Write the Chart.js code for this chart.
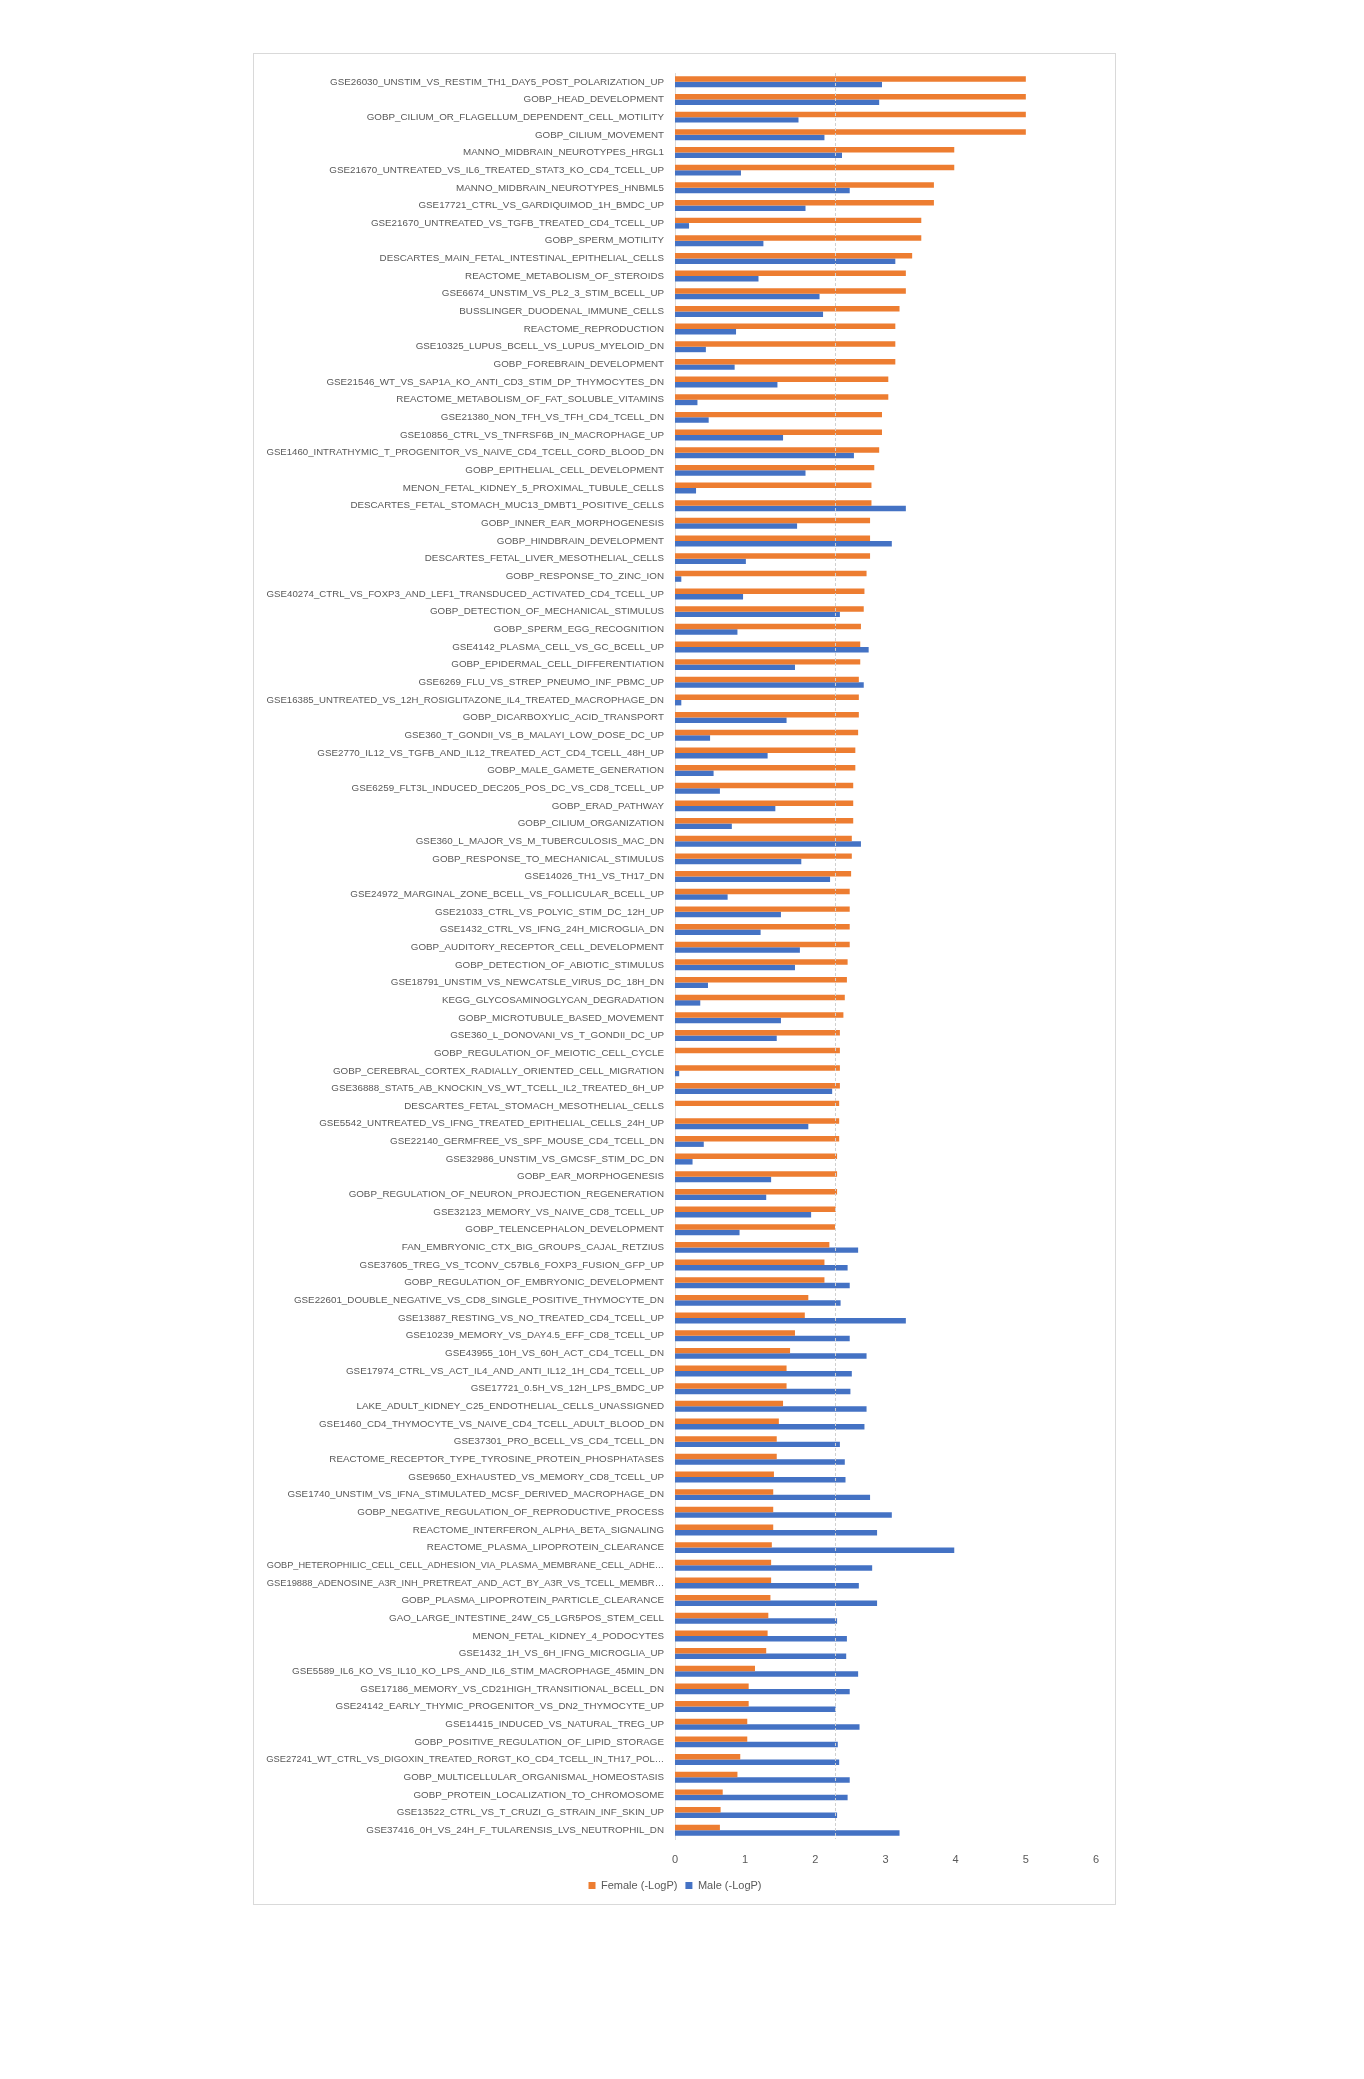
<!DOCTYPE html>
<html>
<head>
<meta charset="utf-8">
<script src="https://cdn.jsdelivr.net/npm/chart.js@4.4.1/dist/chart.umd.min.js"></script>
<style>
  html, body { margin: 0; padding: 0; background: #ffffff; }
  #box {
    position: absolute; left: 253px; top: 53px;
    width: 863px; height: 1852px;
    border: 1px solid #d9d9d9; box-sizing: border-box; background: #fff;
  }
  #box canvas { display: block; }
</style>
</head>
<body>
<div id="box"><canvas id="chartGenes"></canvas></div>
<script>
const categories = [
  'GSE26030_UNSTIM_VS_RESTIM_TH1_DAY5_POST_POLARIZATION_UP',
  'GOBP_HEAD_DEVELOPMENT',
  'GOBP_CILIUM_OR_FLAGELLUM_DEPENDENT_CELL_MOTILITY',
  'GOBP_CILIUM_MOVEMENT',
  'MANNO_MIDBRAIN_NEUROTYPES_HRGL1',
  'GSE21670_UNTREATED_VS_IL6_TREATED_STAT3_KO_CD4_TCELL_UP',
  'MANNO_MIDBRAIN_NEUROTYPES_HNBML5',
  'GSE17721_CTRL_VS_GARDIQUIMOD_1H_BMDC_UP',
  'GSE21670_UNTREATED_VS_TGFB_TREATED_CD4_TCELL_UP',
  'GOBP_SPERM_MOTILITY',
  'DESCARTES_MAIN_FETAL_INTESTINAL_EPITHELIAL_CELLS',
  'REACTOME_METABOLISM_OF_STEROIDS',
  'GSE6674_UNSTIM_VS_PL2_3_STIM_BCELL_UP',
  'BUSSLINGER_DUODENAL_IMMUNE_CELLS',
  'REACTOME_REPRODUCTION',
  'GSE10325_LUPUS_BCELL_VS_LUPUS_MYELOID_DN',
  'GOBP_FOREBRAIN_DEVELOPMENT',
  'GSE21546_WT_VS_SAP1A_KO_ANTI_CD3_STIM_DP_THYMOCYTES_DN',
  'REACTOME_METABOLISM_OF_FAT_SOLUBLE_VITAMINS',
  'GSE21380_NON_TFH_VS_TFH_CD4_TCELL_DN',
  'GSE10856_CTRL_VS_TNFRSF6B_IN_MACROPHAGE_UP',
  'GSE1460_INTRATHYMIC_T_PROGENITOR_VS_NAIVE_CD4_TCELL_CORD_BLOOD_DN',
  'GOBP_EPITHELIAL_CELL_DEVELOPMENT',
  'MENON_FETAL_KIDNEY_5_PROXIMAL_TUBULE_CELLS',
  'DESCARTES_FETAL_STOMACH_MUC13_DMBT1_POSITIVE_CELLS',
  'GOBP_INNER_EAR_MORPHOGENESIS',
  'GOBP_HINDBRAIN_DEVELOPMENT',
  'DESCARTES_FETAL_LIVER_MESOTHELIAL_CELLS',
  'GOBP_RESPONSE_TO_ZINC_ION',
  'GSE40274_CTRL_VS_FOXP3_AND_LEF1_TRANSDUCED_ACTIVATED_CD4_TCELL_UP',
  'GOBP_DETECTION_OF_MECHANICAL_STIMULUS',
  'GOBP_SPERM_EGG_RECOGNITION',
  'GSE4142_PLASMA_CELL_VS_GC_BCELL_UP',
  'GOBP_EPIDERMAL_CELL_DIFFERENTIATION',
  'GSE6269_FLU_VS_STREP_PNEUMO_INF_PBMC_UP',
  'GSE16385_UNTREATED_VS_12H_ROSIGLITAZONE_IL4_TREATED_MACROPHAGE_DN',
  'GOBP_DICARBOXYLIC_ACID_TRANSPORT',
  'GSE360_T_GONDII_VS_B_MALAYI_LOW_DOSE_DC_UP',
  'GSE2770_IL12_VS_TGFB_AND_IL12_TREATED_ACT_CD4_TCELL_48H_UP',
  'GOBP_MALE_GAMETE_GENERATION',
  'GSE6259_FLT3L_INDUCED_DEC205_POS_DC_VS_CD8_TCELL_UP',
  'GOBP_ERAD_PATHWAY',
  'GOBP_CILIUM_ORGANIZATION',
  'GSE360_L_MAJOR_VS_M_TUBERCULOSIS_MAC_DN',
  'GOBP_RESPONSE_TO_MECHANICAL_STIMULUS',
  'GSE14026_TH1_VS_TH17_DN',
  'GSE24972_MARGINAL_ZONE_BCELL_VS_FOLLICULAR_BCELL_UP',
  'GSE21033_CTRL_VS_POLYIC_STIM_DC_12H_UP',
  'GSE1432_CTRL_VS_IFNG_24H_MICROGLIA_DN',
  'GOBP_AUDITORY_RECEPTOR_CELL_DEVELOPMENT',
  'GOBP_DETECTION_OF_ABIOTIC_STIMULUS',
  'GSE18791_UNSTIM_VS_NEWCATSLE_VIRUS_DC_18H_DN',
  'KEGG_GLYCOSAMINOGLYCAN_DEGRADATION',
  'GOBP_MICROTUBULE_BASED_MOVEMENT',
  'GSE360_L_DONOVANI_VS_T_GONDII_DC_UP',
  'GOBP_REGULATION_OF_MEIOTIC_CELL_CYCLE',
  'GOBP_CEREBRAL_CORTEX_RADIALLY_ORIENTED_CELL_MIGRATION',
  'GSE36888_STAT5_AB_KNOCKIN_VS_WT_TCELL_IL2_TREATED_6H_UP',
  'DESCARTES_FETAL_STOMACH_MESOTHELIAL_CELLS',
  'GSE5542_UNTREATED_VS_IFNG_TREATED_EPITHELIAL_CELLS_24H_UP',
  'GSE22140_GERMFREE_VS_SPF_MOUSE_CD4_TCELL_DN',
  'GSE32986_UNSTIM_VS_GMCSF_STIM_DC_DN',
  'GOBP_EAR_MORPHOGENESIS',
  'GOBP_REGULATION_OF_NEURON_PROJECTION_REGENERATION',
  'GSE32123_MEMORY_VS_NAIVE_CD8_TCELL_UP',
  'GOBP_TELENCEPHALON_DEVELOPMENT',
  'FAN_EMBRYONIC_CTX_BIG_GROUPS_CAJAL_RETZIUS',
  'GSE37605_TREG_VS_TCONV_C57BL6_FOXP3_FUSION_GFP_UP',
  'GOBP_REGULATION_OF_EMBRYONIC_DEVELOPMENT',
  'GSE22601_DOUBLE_NEGATIVE_VS_CD8_SINGLE_POSITIVE_THYMOCYTE_DN',
  'GSE13887_RESTING_VS_NO_TREATED_CD4_TCELL_UP',
  'GSE10239_MEMORY_VS_DAY4.5_EFF_CD8_TCELL_UP',
  'GSE43955_10H_VS_60H_ACT_CD4_TCELL_DN',
  'GSE17974_CTRL_VS_ACT_IL4_AND_ANTI_IL12_1H_CD4_TCELL_UP',
  'GSE17721_0.5H_VS_12H_LPS_BMDC_UP',
  'LAKE_ADULT_KIDNEY_C25_ENDOTHELIAL_CELLS_UNASSIGNED',
  'GSE1460_CD4_THYMOCYTE_VS_NAIVE_CD4_TCELL_ADULT_BLOOD_DN',
  'GSE37301_PRO_BCELL_VS_CD4_TCELL_DN',
  'REACTOME_RECEPTOR_TYPE_TYROSINE_PROTEIN_PHOSPHATASES',
  'GSE9650_EXHAUSTED_VS_MEMORY_CD8_TCELL_UP',
  'GSE1740_UNSTIM_VS_IFNA_STIMULATED_MCSF_DERIVED_MACROPHAGE_DN',
  'GOBP_NEGATIVE_REGULATION_OF_REPRODUCTIVE_PROCESS',
  'REACTOME_INTERFERON_ALPHA_BETA_SIGNALING',
  'REACTOME_PLASMA_LIPOPROTEIN_CLEARANCE',
  'GOBP_HETEROPHILIC_CELL_CELL_ADHESION_VIA_PLASMA_MEMBRANE_CELL_ADHE…',
  'GSE19888_ADENOSINE_A3R_INH_PRETREAT_AND_ACT_BY_A3R_VS_TCELL_MEMBR…',
  'GOBP_PLASMA_LIPOPROTEIN_PARTICLE_CLEARANCE',
  'GAO_LARGE_INTESTINE_24W_C5_LGR5POS_STEM_CELL',
  'MENON_FETAL_KIDNEY_4_PODOCYTES',
  'GSE1432_1H_VS_6H_IFNG_MICROGLIA_UP',
  'GSE5589_IL6_KO_VS_IL10_KO_LPS_AND_IL6_STIM_MACROPHAGE_45MIN_DN',
  'GSE17186_MEMORY_VS_CD21HIGH_TRANSITIONAL_BCELL_DN',
  'GSE24142_EARLY_THYMIC_PROGENITOR_VS_DN2_THYMOCYTE_UP',
  'GSE14415_INDUCED_VS_NATURAL_TREG_UP',
  'GOBP_POSITIVE_REGULATION_OF_LIPID_STORAGE',
  'GSE27241_WT_CTRL_VS_DIGOXIN_TREATED_RORGT_KO_CD4_TCELL_IN_TH17_POL…',
  'GOBP_MULTICELLULAR_ORGANISMAL_HOMEOSTASIS',
  'GOBP_PROTEIN_LOCALIZATION_TO_CHROMOSOME',
  'GSE13522_CTRL_VS_T_CRUZI_G_STRAIN_INF_SKIN_UP',
  'GSE37416_0H_VS_24H_F_TULARENSIS_LVS_NEUTROPHIL_DN'
];

// -LogP por sexo
const femaleLogP = [
  5.00, 5.00, 5.00, 5.00, 3.98, 3.98, 3.69, 3.69, 3.51, 3.51,
  3.38, 3.29, 3.29, 3.20, 3.14, 3.14, 3.14, 3.04, 3.04, 2.95,
  2.95, 2.91, 2.84, 2.80, 2.80, 2.78, 2.78, 2.78, 2.73, 2.70,
  2.69, 2.65, 2.64, 2.64, 2.62, 2.62, 2.62, 2.61, 2.57, 2.57,
  2.54, 2.54, 2.54, 2.52, 2.52, 2.51, 2.49, 2.49, 2.49, 2.49,
  2.46, 2.45, 2.42, 2.40, 2.35, 2.35, 2.35, 2.35, 2.34, 2.34,
  2.34, 2.31, 2.31, 2.31, 2.29, 2.28, 2.20, 2.13, 2.13, 1.90,
  1.85, 1.71, 1.64, 1.59, 1.59, 1.54, 1.48, 1.45, 1.45, 1.41,
  1.40, 1.40, 1.40, 1.38, 1.37, 1.37, 1.36, 1.33, 1.32, 1.30,
  1.14, 1.05, 1.05, 1.03, 1.03, 0.93, 0.89, 0.68, 0.65, 0.64
];
const maleLogP = [
  2.95, 2.91, 1.76, 2.13, 2.38, 0.94, 2.49, 1.86, 0.20, 1.26,
  3.14, 1.19, 2.06, 2.11, 0.87, 0.44, 0.85, 1.46, 0.32, 0.48,
  1.54, 2.55, 1.86, 0.30, 3.29, 1.74, 3.09, 1.01, 0.09, 0.97,
  2.35, 0.89, 2.76, 1.71, 2.69, 0.09, 1.59, 0.50, 1.32, 0.55,
  0.64, 1.43, 0.81, 2.65, 1.80, 2.21, 0.75, 1.51, 1.22, 1.78,
  1.71, 0.47, 0.36, 1.51, 1.45, 0.00, 0.06, 2.24, 0.00, 1.90,
  0.41, 0.25, 1.37, 1.30, 1.94, 0.92, 2.61, 2.46, 2.49, 2.36,
  3.29, 2.49, 2.73, 2.52, 2.50, 2.73, 2.70, 2.35, 2.42, 2.43,
  2.78, 3.09, 2.88, 3.98, 2.81, 2.62, 2.88, 2.31, 2.45, 2.44,
  2.61, 2.49, 2.29, 2.63, 2.32, 2.34, 2.49, 2.46, 2.31, 3.20
];
const xTicks = [0, 1, 2, 3, 4, 5, 6];
const seriesNames = ['Female (-LogP)', 'Male (-LogP)'];
const thresholdLogP = 2.28;

const textColor = '#595959';
const labelFamily = 'Liberation Sans';
const labelSize = 9.8;
const labelMaxWidth = 398;

// las etiquetas muy largas se achican para que quepan en el recuadro
const measureCtx = document.createElement('canvas').getContext('2d');
function labelFont(context) {
  const text = context.tick ? String(context.tick.label) : '';
  measureCtx.font = labelSize + 'px "' + labelFamily + '"';
  const w = measureCtx.measureText(text).width;
  const size = w > labelMaxWidth ? labelSize * labelMaxWidth / w : labelSize;
  return { family: labelFamily, size: size };
}

// linea discontinua del umbral
const thresholdLine = {
  id: 'thresholdLine',
  afterDatasetsDraw(chart) {
    const x = chart.scales.x.getPixelForValue(thresholdLogP);
    const area = chart.chartArea;
    const c = chart.ctx;
    c.save();
    c.strokeStyle = '#d0d0d0';
    c.lineWidth = 1;
    c.setLineDash([3, 2]);
    c.beginPath();
    c.moveTo(Math.round(x) + 0.5, area.top);
    c.lineTo(Math.round(x) + 0.5, area.bottom);
    c.stroke();
    c.restore();
  }
};

document.addEventListener('DOMContentLoaded', function(){
  const ctx = document.getElementById('chartGenes');
  new Chart(ctx, {
    type: 'bar',
    data: {
      labels: categories,
      datasets: [
        { label: seriesNames[0], data: femaleLogP, backgroundColor: '#ED7D31', borderWidth: 0 },
        { label: seriesNames[1], data: maleLogP, backgroundColor: '#4472C4', borderWidth: 0 }
      ]
    },
    options: {
      indexAxis: 'y',
      responsive: true,
      maintainAspectRatio: false,
      animation: false,
      layout: { padding: { top: 19, left: 0, right: 19, bottom: 3 } },
      datasets: { bar: { categoryPercentage: 0.62, barPercentage: 1.0 } },
      scales: {
        x: {
          min: 0, max: 6,
          afterBuildTicks(scale) { scale.ticks = xTicks.map(v => ({ value: v })); },
          grid: { display: false, drawTicks: false },
          border: { display: false },
          ticks: { color: textColor, padding: 14, font: { family: 'Liberation Sans', size: 11 } },
          afterFit(scale) { scale.height = 33; }
        },
        y: {
          grid: { display: false, drawTicks: false },
          border: { display: true, color: '#d9d9d9', width: 1 },
          ticks: { autoSkip: false, color: textColor, padding: 11, font: labelFont },
          afterFit(scale) { scale.width = 421; }
        }
      },
      plugins: {
        legend: {
          position: 'bottom',
          labels: {
            color: textColor, boxWidth: 7, boxHeight: 7, padding: 8,
            font: { family: 'Liberation Sans', size: 11 }
          }
        },
        tooltip: { enabled: false }
      }
    },
    plugins: [thresholdLine]
  });
});
</script>
</body>
</html>
